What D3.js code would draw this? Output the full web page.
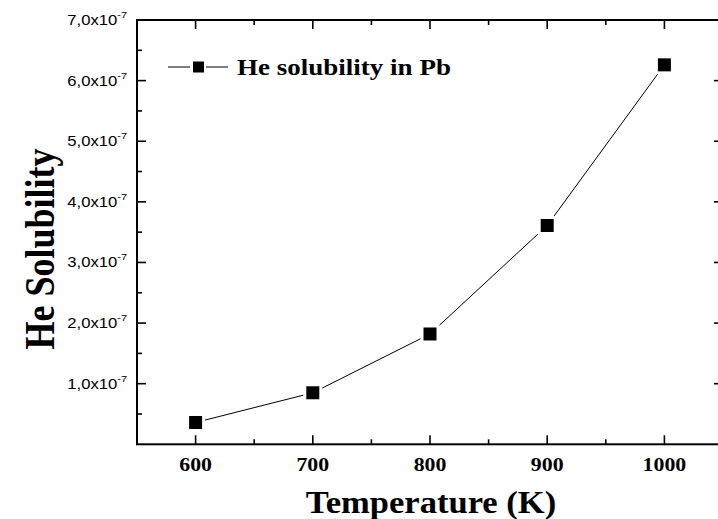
<!DOCTYPE html>
<html><head><meta charset="utf-8">
<script src="https://cdn.jsdelivr.net/npm/d3@7"></script>
<style>body{margin:0;background:#fff}svg{display:block}</style>
</head><body>
<svg id="c" width="718" height="519"></svg>
<script>
const temps = [600, 700, 800, 900, 1000];
const solubility = [0.36e-7, 0.85e-7, 1.82e-7, 3.61e-7, 6.26e-7];
const xTicks = [600, 700, 800, 900, 1000];
const yTicks = [1e-7, 2e-7, 3e-7, 4e-7, 5e-7, 6e-7, 7e-7];
const yTickMant = ["1,0x10", "2,0x10", "3,0x10", "4,0x10", "5,0x10", "6,0x10", "7,0x10"];
const seriesName = "He solubility in Pb";

const svg = d3.select("#c");
const L = 137, R = 723, T = 20, B = 444.3;
const x = d3.scaleLinear().domain([550, 1050]).range([L, R]);
const y = d3.scaleLinear().domain([0, 7e-7]).range([B, T]);
const serif = "'Liberation Serif','Times New Roman',serif";
const sans = "'Liberation Sans',Arial,sans-serif";
const SX = 1.15;

svg.append("rect").attr("x", L).attr("y", T).attr("width", R - L).attr("height", B - T)
  .attr("fill", "none").attr("stroke", "#000").attr("stroke-width", 2);

const xMinor = d3.range(550, 1051, 50);
const yMinor = d3.range(0.5e-7, 7e-7, 1e-7);
xMinor.forEach(v => {
  const len = xTicks.includes(v) ? 9 : 5;
  svg.append("line").attr("x1", x(v)).attr("x2", x(v)).attr("y1", B).attr("y2", B - len)
    .attr("stroke", "#000").attr("stroke-width", 1.6);
  svg.append("line").attr("x1", x(v)).attr("x2", x(v)).attr("y1", T).attr("y2", T + len)
    .attr("stroke", "#000").attr("stroke-width", 1.6);
});
yTicks.concat(yMinor).forEach(v => {
  const len = yTicks.includes(v) ? 9 : 5;
  svg.append("line").attr("x1", L).attr("x2", L + len).attr("y1", y(v)).attr("y2", y(v))
    .attr("stroke", "#000").attr("stroke-width", 1.6);
  svg.append("line").attr("x1", R).attr("x2", R - len).attr("y1", y(v)).attr("y2", y(v))
    .attr("stroke", "#000").attr("stroke-width", 1.6);
});

xTicks.forEach(v => {
  svg.append("text").attr("transform", `translate(${x(v)},471) scale(${SX},1)`).attr("text-anchor", "middle")
    .attr("font-family", serif).attr("font-weight", "bold").attr("font-size", 19).text(v);
});
yTicks.forEach((v, i) => {
  const t = svg.append("text").attr("transform", `translate(127,${y(v) + 5}) scale(${SX},1)`).attr("text-anchor", "end")
    .attr("font-family", sans).attr("font-size", 14.5);
  t.append("tspan").text(yTickMant[i]);
  t.append("tspan").attr("font-size", 9.5).attr("dy", -7).text("-7");
});

svg.append("text").attr("transform", `translate(431,513) scale(1.08,1)`).attr("text-anchor", "middle")
  .attr("font-family", serif).attr("font-weight", "bold").attr("font-size", 32).text("Temperature (K)");
svg.append("text").attr("transform", `translate(54,249) rotate(-90) scale(1,${SX})`).attr("text-anchor", "middle")
  .attr("font-family", serif).attr("font-weight", "bold").attr("font-size", 36).text("He Solubility");

const pts = temps.map((t, i) => [x(t), y(solubility[i])]);
svg.append("path").attr("d", d3.line()(pts)).attr("fill", "none").attr("stroke", "#000").attr("stroke-width", 1);
const s = 13;
svg.selectAll("rect.gap").data(pts).join("rect").attr("class", "gap")
  .attr("x", d => d[0] - s / 2 - 3).attr("y", d => d[1] - s / 2 - 3).attr("width", s + 6).attr("height", s + 6).attr("fill", "#fff");
svg.selectAll("rect.mk").data(pts).join("rect").attr("class", "mk")
  .attr("x", d => d[0] - s / 2).attr("y", d => d[1] - s / 2).attr("width", s).attr("height", s).attr("fill", "#000");

const ly = 67;
svg.append("line").attr("x1", 168).attr("x2", 190).attr("y1", ly).attr("y2", ly).attr("stroke", "#000").attr("stroke-width", 1);
svg.append("line").attr("x1", 206).attr("x2", 228).attr("y1", ly).attr("y2", ly).attr("stroke", "#000").attr("stroke-width", 1);
svg.append("rect").attr("x", 193).attr("y", ly - 5.5).attr("width", 11).attr("height", 11).attr("fill", "#000");
svg.append("text").attr("transform", `translate(237,75) scale(${SX},1)`).attr("font-family", serif).attr("font-weight", "bold")
  .attr("font-size", 23.5).text(seriesName);
</script>
</body></html>
